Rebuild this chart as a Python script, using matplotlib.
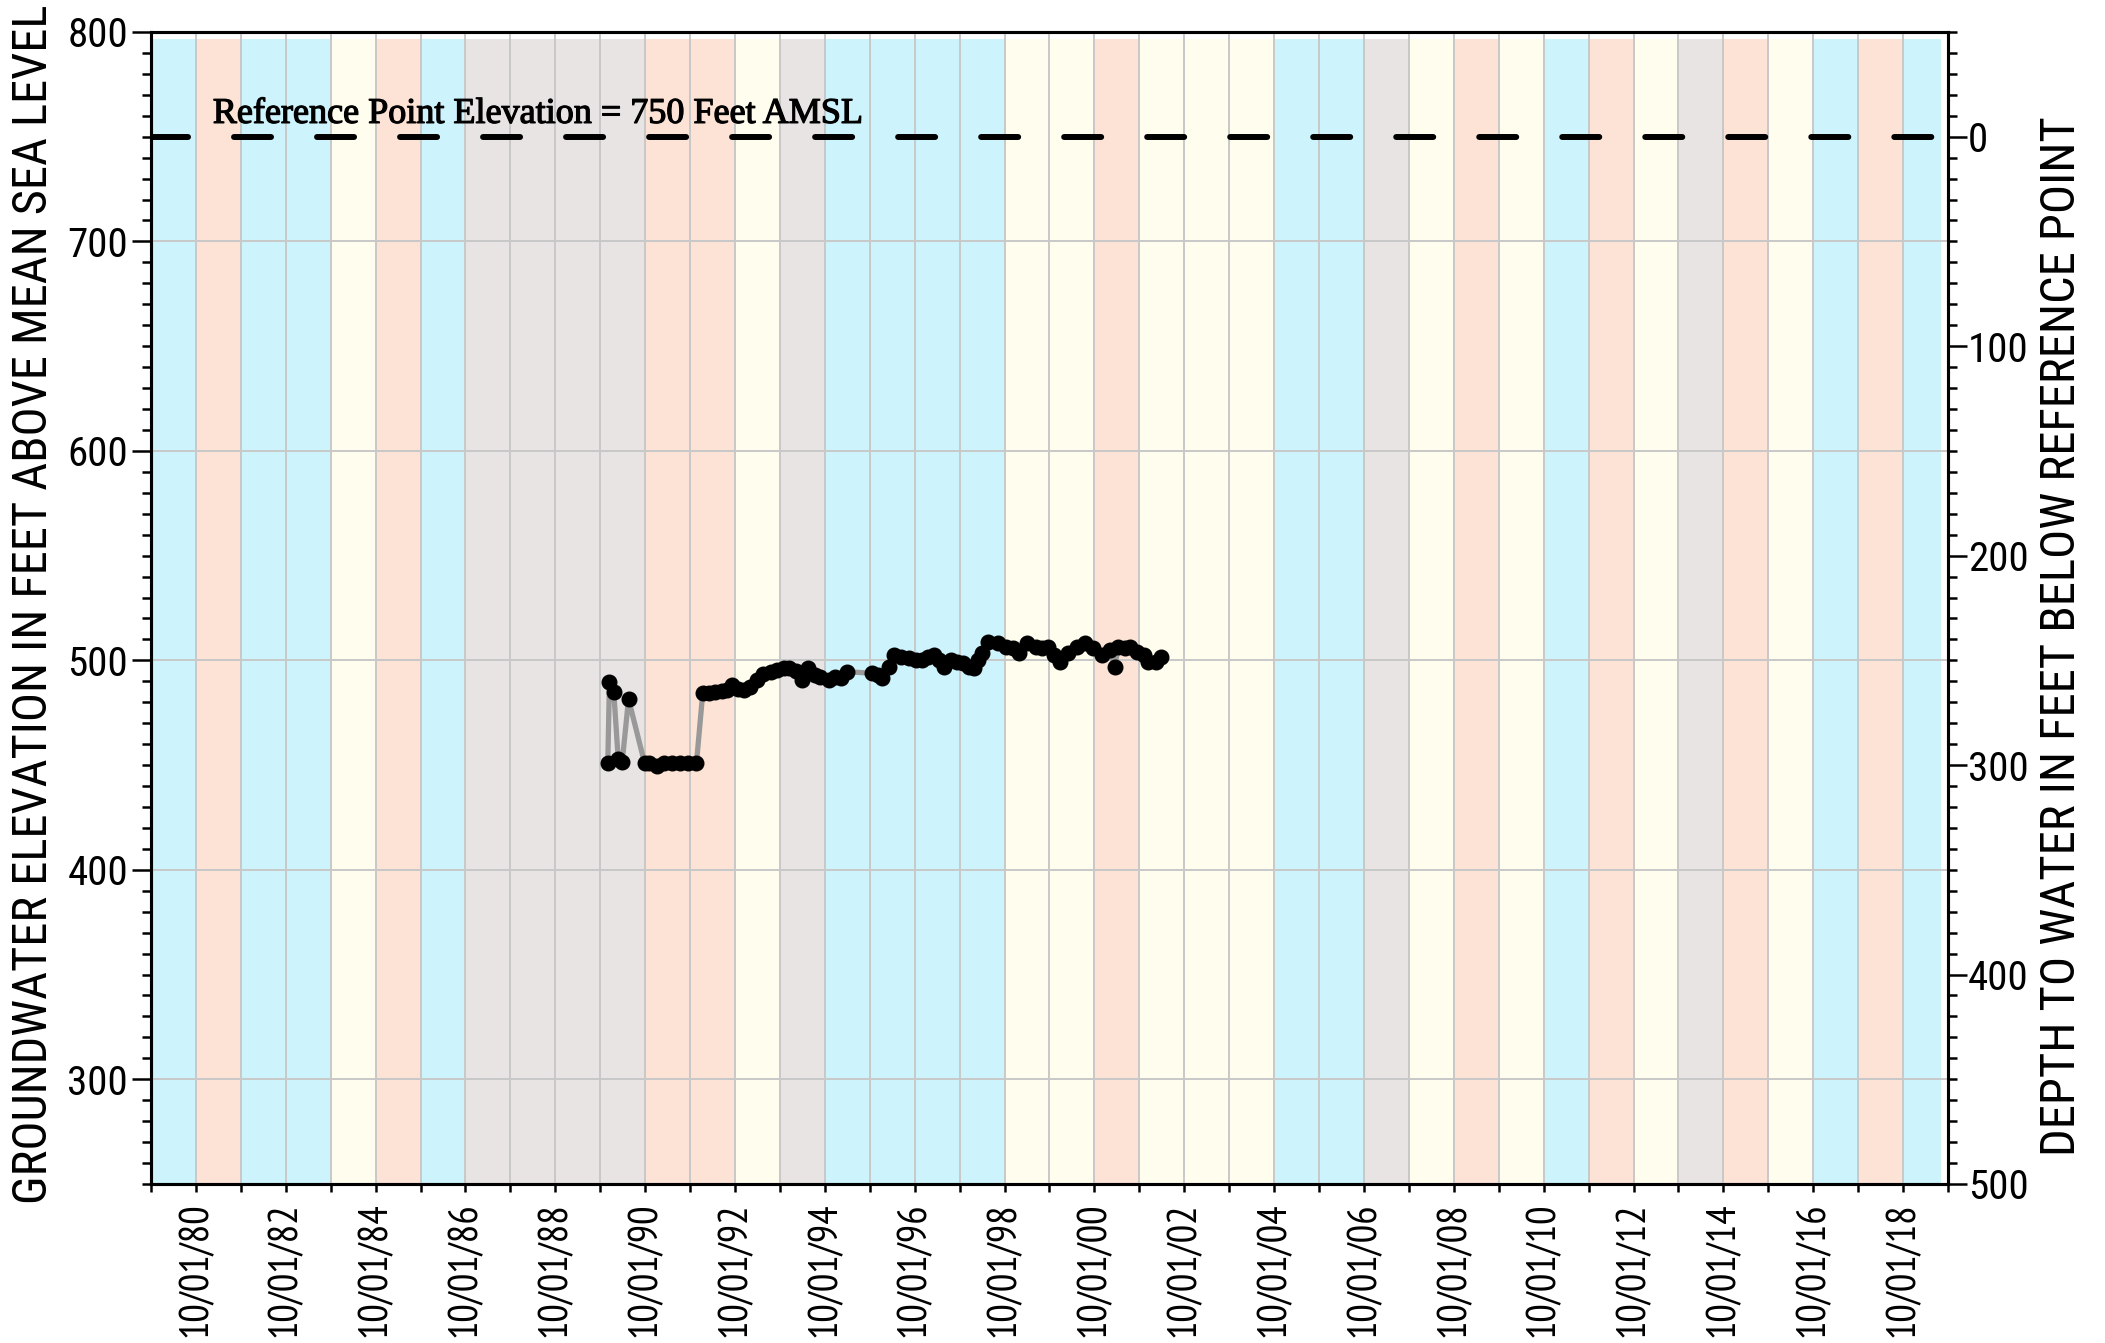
import matplotlib
matplotlib.use('Agg')
import matplotlib.pyplot as plt
import matplotlib.dates as mdates
import matplotlib.patheffects as pe
from matplotlib.ticker import MultipleLocator
import pandas as pd

# water year classification, WY1980 .. WY2019
water_years = list(range(1980, 2020))
wy_type = ['W', 'D', 'W', 'W', 'AN', 'D', 'W', 'C', 'C', 'C',
           'C', 'D', 'D', 'AN', 'C', 'W', 'W', 'W', 'W', 'AN',
           'AN', 'D', 'AN', 'AN', 'AN', 'W', 'W', 'C', 'AN', 'D',
           'AN', 'W', 'D', 'AN', 'C', 'D', 'AN', 'W', 'D', 'W']
type_colors = {'W': '#cdf3fc', 'D': '#fde3d5', 'AN': '#fefdee', 'C': '#e9e4e4'}

# groundwater elevation (ft AMSL)
dates = ['1989-12-01', '1989-12-15', '1990-01-19', '1990-02-24', '1990-03-28', '1990-05-19',
         '1990-09-27', '1990-11-03', '1991-01-08', '1991-02-28', '1991-05-05', '1991-07-13',
         '1991-09-17', '1991-11-22', '1992-01-12', '1992-03-03', '1992-04-23', '1992-06-14',
         '1992-07-31', '1992-09-06', '1992-10-23', '1992-12-13', '1993-02-03', '1993-03-25',
         '1993-05-16', '1993-07-20', '1993-09-09', '1993-10-30', '1993-12-17', '1994-02-06',
         '1994-03-29', '1994-05-19', '1994-07-09', '1994-08-26', '1994-11-03', '1994-12-24',
         '1995-02-10', '1995-04-02', '1995-10-20', '1995-12-10', '1996-01-12', '1996-03-03',
         '1996-04-16', '1996-06-14', '1996-08-18', '1996-10-08', '1996-11-28', '1997-01-19',
         '1997-03-07', '1997-04-20', '1997-05-30', '1997-07-20', '1997-09-09', '1997-10-30',
         '1997-12-20', '1998-01-23', '1998-02-24', '1998-03-28', '1998-05-19', '1998-08-11',
         '1998-10-16', '1998-12-06', '1999-01-26', '1999-04-02', '1999-06-10', '1999-07-31',
         '1999-09-17', '1999-11-07', '1999-12-28', '2000-03-03', '2000-05-12', '2000-07-16',
         '2000-09-20', '2000-11-28', '2001-02-03', '2001-03-15', '2001-04-13', '2001-06-03',
         '2001-07-20', '2001-09-13', '2001-11-07', '2001-12-10', '2002-02-17', '2002-03-22']
elev = [450.8, 489.8, 485.0, 452.7, 451.3, 481.5,
        450.8, 450.8, 449.5, 450.8, 450.8, 450.8,
        450.8, 450.8, 484.2, 484.2, 485.0, 485.5,
        485.8, 488.2, 486.1, 485.8, 487.1, 490.6,
        493.5, 494.6, 495.4, 496.2, 496.2, 495.0,
        490.6, 496.2, 493.0, 492.2, 490.6, 492.2,
        491.4, 494.6, 493.8, 493.0, 491.4, 497.0,
        502.5, 501.4, 500.9, 500.1, 500.1, 501.7,
        502.5, 500.1, 497.0, 500.1, 499.3, 498.5,
        497.0, 496.2, 500.1, 503.3, 508.9, 508.1,
        506.5, 505.7, 503.3, 508.1, 506.5, 505.7,
        506.5, 502.5, 499.3, 503.3, 506.5, 508.1,
        505.7, 502.5, 504.9, 497.0, 506.5, 505.7,
        506.5, 504.1, 502.5, 499.3, 499.3, 501.7]

ref_elev = 750
ref_label = 'Reference Point Elevation = 750 Feet AMSL'

cond = ['Roboto Condensed', 'DejaVu Sans']
narrow = ['PT Sans Narrow', 'Roboto Condensed', 'DejaVu Sans']

fig = plt.figure(figsize=(21.05, 13.43), dpi=100)
ax = fig.add_axes([0.0717, 0.1184, 0.8537, 0.8578])

x0 = pd.Timestamp('1979-10-01')
x1 = pd.Timestamp('2019-10-01')

# water year bands
for wy, t in zip(water_years, wy_type):
    a = pd.Timestamp(f'{wy - 1}-10-01')
    b = min(pd.Timestamp(f'{wy}-10-01'), x1 - pd.Timedelta(days=56))
    ax.axvspan(a, b, ymin=0, ymax=0.994, color=type_colors[t], lw=0, zorder=0)

ax.axhline(ref_elev, color='black', lw=4.3, dashes=(6.2, 7.7), dash_capstyle='round', zorder=3)
ax.text(pd.Timestamp('1981-02-15'), 756.6, ref_label, family=['Liberation Serif', 'DejaVu Serif'],
        fontsize=26, ha='left', va='baseline', zorder=4,
        path_effects=[pe.withStroke(linewidth=0.9, foreground='black')])

t = pd.to_datetime(dates)
ax.plot(t, elev, color='#999999', lw=3.8, zorder=4)
ax.plot(t, elev, 'o', color='black', ms=10.5, zorder=5)

ax.set_xlim(x0, x1)
ax.set_ylim(250, 800)
ax.xaxis.set_major_locator(mdates.YearLocator(2, month=10, day=1))
ax.xaxis.set_minor_locator(mdates.YearLocator(1, month=10, day=1))
ax.xaxis.set_major_formatter(mdates.DateFormatter('%m/%d/%y'))
ax.yaxis.set_major_locator(MultipleLocator(100))
ax.yaxis.set_minor_locator(MultipleLocator(10))

ax.grid(True, axis='x', which='both', color='#c8c8c8', lw=1.4, zorder=1)
ax.grid(True, axis='y', which='major', color='#c8c8c8', lw=1.4, zorder=1)
ax.set_axisbelow(False)

ax.tick_params(axis='x', which='both', direction='out', length=5.5, width=1.8, pad=8)
ax.tick_params(axis='y', which='major', direction='out', length=13.5, width=1.8, pad=3)
ax.tick_params(axis='y', which='minor', direction='out', length=6.5, width=1.8)
for lab in ax.get_xticklabels():
    lab.set_rotation(90)
    lab.set_family(narrow)
    lab.set_fontsize(29.5)
for lab in ax.get_yticklabels():
    lab.set_family(cond)
    lab.set_fontsize(29.5)
for s in ax.spines.values():
    s.set_linewidth(2.2)

ax2 = ax.twinx()
ax2.set_ylim(ref_elev - 250, ref_elev - 800)
ax2.yaxis.set_major_locator(MultipleLocator(100))
ax2.yaxis.set_minor_locator(MultipleLocator(10))
ax2.tick_params(axis='y', which='major', direction='out', length=13.5, width=1.8, pad=1)
ax2.tick_params(axis='y', which='minor', direction='out', length=6.5, width=1.8)
for lab in ax2.get_yticklabels():
    lab.set_family(cond)
    lab.set_fontsize(29.5)
for s in ax2.spines.values():
    s.set_linewidth(2.2)

fig.text(0.016, 0.550, 'GROUNDWATER ELEVATION IN FEET ABOVE MEAN SEA LEVEL', rotation=90,
         ha='center', va='center', family=cond, fontsize=34.8)
fig.text(0.9796, 0.526, 'DEPTH TO WATER IN FEET BELOW REFERENCE POINT', rotation=90,
         ha='center', va='center', family=cond, fontsize=35)

fig.savefig('out.png', dpi=100)
